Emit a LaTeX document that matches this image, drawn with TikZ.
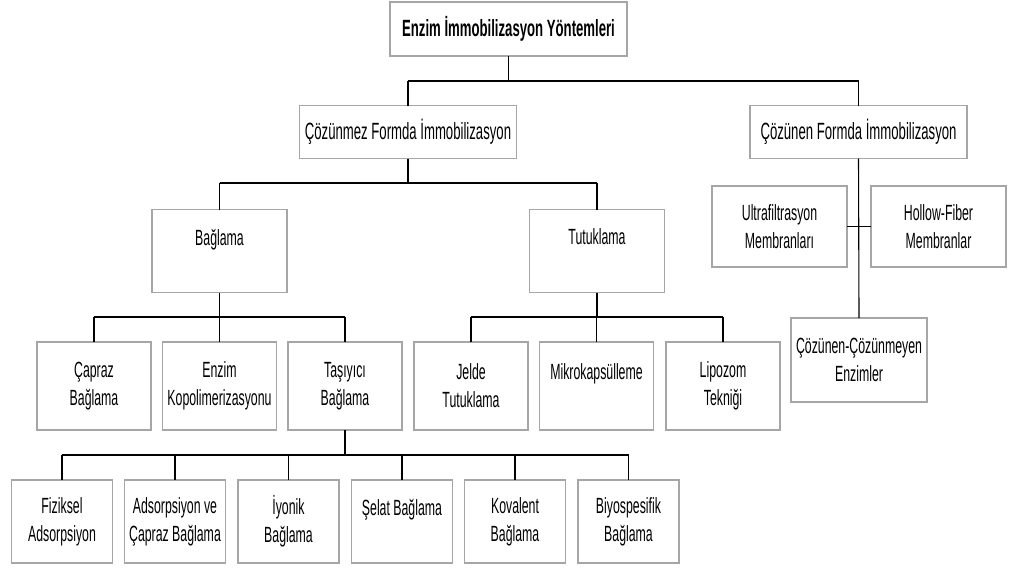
\documentclass[tikz,border=0pt]{standalone}
\usepackage{fontspec}
\setmainfont{Liberation Sans}[FakeStretch=0.56]
\usetikzlibrary{positioning}
\tikzset{
BoxStyle/.style  ={draw=gray!70, line width=1.3pt, fill=white,
                   align=center, inner sep=0pt, outer sep=0pt,
                   font=\fontsize{22}{28}\selectfont},
TopBoxStyle/.style ={BoxStyle, minimum width=237pt, minimum height=54pt,
                   font=\fontsize{23.5}{28}\bfseries},
MidBoxStyle/.style ={BoxStyle, minimum width=217pt, minimum height=53pt,
                   font=\fontsize{23.5}{28}\selectfont},
SubBoxStyle/.style ={BoxStyle, minimum width=135pt, minimum height=83pt},
LeafBoxStyle/.style ={BoxStyle, minimum width=114pt, minimum height=88pt},
SmallBoxStyle/.style ={BoxStyle, minimum width=101pt, minimum height=83pt},
LinkStyle/.style ={line width=1.1pt, black},
BarStyle/.style  ={line width=1.8pt, black},
}
\begin{document}
\begin{tikzpicture}[x=1pt, y=-1pt]
\useasboundingbox (0,0) rectangle (1011,570);

% kutular
\node[TopBoxStyle] (top) at (508.5,29) {Enzim İmmobilizasyon Yöntemleri};
\node[MidBoxStyle] (insol) at (408,132) {Çözünmez Formda İmmobilizasyon};
\node[MidBoxStyle] (sol) at (858.5,132) {Çözünen Formda İmmobilizasyon};

\node[SubBoxStyle] (bag) at (219.5,251) {Bağlama\\~};
\node[SubBoxStyle] (tut) at (597,251) {Tutuklama\\~};

\node[LeafBoxStyle] (capraz) at (94,386) {Çapraz\\Bağlama};
\node[LeafBoxStyle] (kopol) at (219.5,386) {Enzim\\Kopolimerizasyonu};
\node[LeafBoxStyle] (tasiyici) at (345,386) {Taşıyıcı\\Bağlama};
\node[LeafBoxStyle] (jelde) at (471,386) {Jelde\\Tutuklama};
\node[LeafBoxStyle] (mikro) at (596.5,386) {Mikrokapsülleme\\~};
\node[LeafBoxStyle] (lipo) at (723,386) {Lipozom\\Tekniği};

\node[SmallBoxStyle] (fiz) at (62,521.5) {Fiziksel\\Adsorpsiyon};
\node[SmallBoxStyle] (adsc) at (175,521.5) {Adsorpsiyon ve\\Çapraz Bağlama};
\node[SmallBoxStyle] (iyon) at (288.5,521.5) {İyonik\\Bağlama};
\node[SmallBoxStyle] (selat) at (402,521.5) {Şelat Bağlama\\~};
\node[SmallBoxStyle] (koval) at (515,521.5) {Kovalent\\Bağlama};
\node[SmallBoxStyle] (biyo) at (628.5,521.5) {Biyospesifik\\Bağlama};

\node[SubBoxStyle, minimum height=81pt] (ultra) at (779.5,226.5) {Ultrafiltrasyon\\Membranları};
\node[SubBoxStyle, minimum height=81pt] (hollow) at (938.5,226.5) {Hollow-Fiber\\Membranlar};
\node[SubBoxStyle, minimum width=136pt, minimum height=84pt] (cozcoz) at (859,360) {Çözünen-Çözünmeyen\\Enzimler};

% baglantilar
\coordinate (barA) at (0,81);
\coordinate (barB) at (0,183);
\coordinate (barC) at (0,317);
\coordinate (barD) at (0,455);

\draw[LinkStyle] (top.south) -- (top.south |- barA);
\draw[BarStyle] (insol.north |- barA) -- (sol.north |- barA);
\foreach \c in {insol, sol}
  \draw[LinkStyle] (\c.north |- barA) -- (\c.north);

\draw[LinkStyle] (insol.south) -- (insol.south |- barB);
\draw[BarStyle] (bag.north |- barB) -- (tut.north |- barB);
\foreach \c in {bag, tut}
  \draw[LinkStyle] (\c.north |- barB) -- (\c.north);

\draw[LinkStyle] (bag.south) -- (bag.south |- barC);
\draw[BarStyle] (capraz.north |- barC) -- (tasiyici.north |- barC);
\foreach \c in {capraz, kopol, tasiyici}
  \draw[LinkStyle] (\c.north |- barC) -- (\c.north);

\draw[LinkStyle] (tut.south) -- (tut.south |- barC);
\draw[BarStyle] (jelde.north |- barC) -- (lipo.north |- barC);
\foreach \c in {jelde, mikro, lipo}
  \draw[LinkStyle] (\c.north |- barC) -- (\c.north);

\draw[LinkStyle] (tasiyici.south) -- (tasiyici.south |- barD);
\draw[BarStyle] (fiz.north |- barD) -- (biyo.north |- barD);
\foreach \c in {fiz, adsc, iyon, selat, koval, biyo}
  \draw[LinkStyle] (\c.north |- barD) -- (\c.north);

\draw[LinkStyle] (sol.south) -- (cozcoz.north);
\draw[LinkStyle] (ultra.east) -- (hollow.west);
\end{tikzpicture}
\end{document}
